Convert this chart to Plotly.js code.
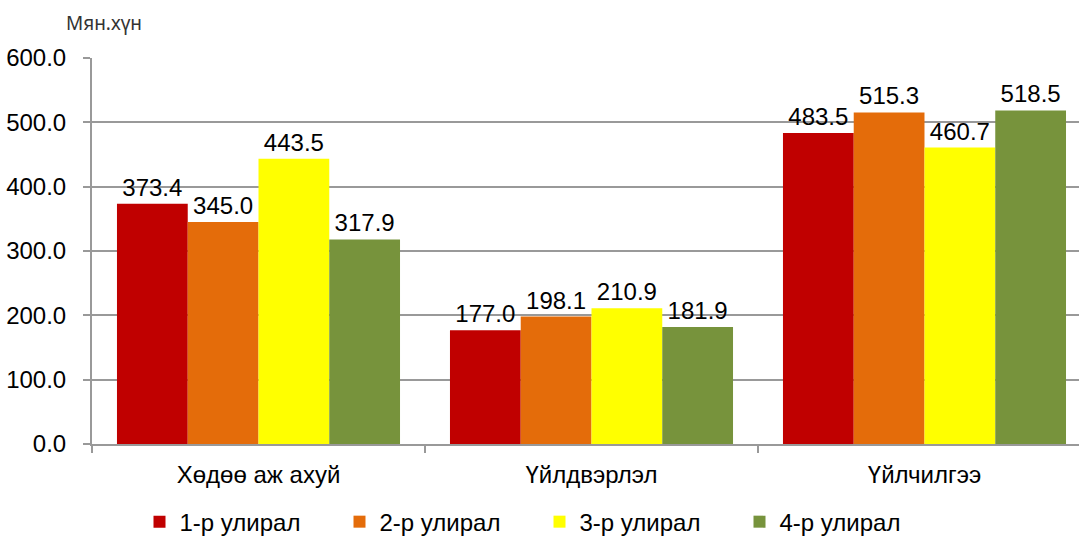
<!DOCTYPE html>
<html><head><meta charset="utf-8">
<script src="https://cdn.plot.ly/plotly-3.0.1.min.js"></script>
<style>body{margin:0;background:#fff}#c{width:1079px;height:541px}</style>
</head><body><div id="c"></div>
<script>
const categories = ["Хөдөө аж ахуй", "Үйлдвэрлэл", "Үйлчилгээ"];
const seriesNames = ["1-р улирал", "2-р улирал", "3-р улирал", "4-р улирал"];
const q1 = [373.4, 177.0, 483.5];
const q2 = [345.0, 198.1, 515.3];
const q3 = [443.5, 210.9, 460.7];
const q4 = [317.9, 181.9, 518.5];
const yTicks = [0, 100, 200, 300, 400, 500, 600];
const colors = ["#C00000", "#E46C0A", "#FFFF00", "#77933C"];
const values = [q1, q2, q3, q4];

const traces = values.map((v, i) => ({
  type: "bar", name: seriesNames[i], x: categories, y: v,
  marker: {color: colors[i]},
  text: v.map(n => n.toFixed(1)), textposition: "outside",
  textfont: {family: "Liberation Sans, Arial", size: 24, color: "#000"},
  cliponaxis: false
}));

Plotly.newPlot("c", traces, {
  width: 1079, height: 541,
  margin: {l: 92, r: 0, t: 58, b: 97},
  barmode: "group", bargap: 0.15, bargroupgap: 0,
  paper_bgcolor: "#fff", plot_bgcolor: "#fff",
  font: {family: "Liberation Sans, Arial", size: 24, color: "#000"},
  xaxis: {range: [-0.5, 2.464], showline: true, linecolor: "#999", linewidth: 2, ticks: "outside", tickson: "boundaries",
          ticklen: 7, tickcolor: "#999", tickwidth: 2, tickfont: {size: 24}, showgrid: false,
          ticklabelstandoff: 8},
  yaxis: {range: [0, 600], tickvals: yTicks, tickformat: ".1f", showline: true, linecolor: "#999",
          linewidth: 2, ticks: "outside", ticklen: 7, tickcolor: "#999", tickwidth: 2,
          gridcolor: "#999", gridwidth: 2, zeroline: false, tickfont: {size: 24},
          ticklabelstandoff: 12},
  showlegend: true,
  legend: {orientation: "h", xref: "container", yref: "container", x: 0.5, xanchor: "center",
           y: 0.035, yanchor: "middle", font: {size: 24}, itemwidth: 30, traceorder: "normal",
           entrywidth: 155, entrywidthmode: "pixels"},
  annotations: [{text: "Мян.хүн", xref: "paper", yref: "paper", x: -0.028, y: 1.09, xanchor: "left",
                 yanchor: "middle", showarrow: false, font: {family: "Noto Sans", size: 19, color: "#333"}}]
}, {displayModeBar: false});
</script></body></html>
